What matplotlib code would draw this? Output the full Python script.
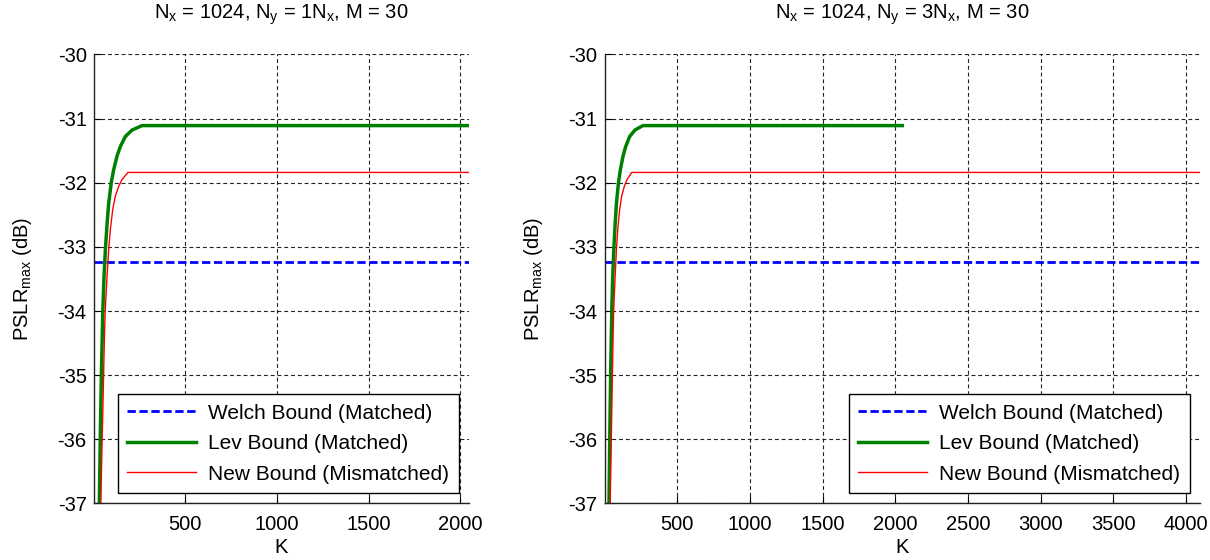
import matplotlib
matplotlib.use("Agg")
import matplotlib.pyplot as plt

plt.rcParams['font.family'] = ['Liberation Sans', 'DejaVu Sans']
plt.rcParams['mathtext.fontset'] = 'custom'
plt.rcParams['mathtext.rm'] = 'Liberation Sans'
plt.rcParams['mathtext.it'] = 'Liberation Sans'
plt.rcParams['axes.unicode_minus'] = False

# ---- data ----
K_welch_1 = [1, 2048]
K_welch_3 = [1, 4096]
welch = -33.23

K_lev = [30, 36, 42, 50, 56, 64, 73, 82, 96, 109, 127, 145, 173, 209, 264, 2048]
lev = [-37.2, -36.0, -35.0, -34.0, -33.5, -33.04, -32.65, -32.32, -32.0, -31.80,
       -31.59, -31.44, -31.28, -31.18, -31.11, -31.11]

K_new = [38, 45, 52, 58, 63, 73, 82, 91, 104, 118, 136, 155, 187, 4096]
new = [-37.1, -36.2, -35.3, -34.5, -34.0, -33.46, -33.04, -32.73, -32.42, -32.21,
       -32.06, -31.95, -31.84, -31.84]

titles = [r'N$_\mathrm{x}$ = 1024, N$_\mathrm{y}$ = 1N$_\mathrm{x}$, M = 30',
          r'N$_\mathrm{x}$ = 1024, N$_\mathrm{y}$ = 3N$_\mathrm{x}$, M = 30']
xmax = [2048, 4096]
xticks = [[500, 1000, 1500, 2000],
          [500, 1000, 1500, 2000, 2500, 3000, 3500, 4000]]
yticks = [-37, -36, -35, -34, -33, -32, -31, -30]
labels = ['Welch Bound (Matched)', 'Lev Bound (Matched)', 'New Bound (Mismatched)']

fig = plt.figure(figsize=(12.1, 5.6), dpi=100)
ax1 = fig.add_axes([0.0774, 0.1009, 0.3104, 0.802])
ax2 = fig.add_axes([0.4996, 0.1009, 0.4921, 0.802])

fs = 14.5
for i, ax in enumerate([ax1, ax2]):
    kw = K_welch_1 if i == 0 else K_welch_3
    ax.plot(kw, [welch, welch], color='#0000ff', lw=2.0, ls=(0, (3.0, 1.3)),
            label=labels[0])
    ax.plot(K_lev, lev, color='#008000', lw=2.5, label=labels[1])
    ax.plot(K_new, new, color='#ff0000', lw=1.0, label=labels[2])
    ax.set_xlim(0, xmax[i])
    ax.set_ylim(-37, -30)
    ax.set_xticks(xticks[i])
    ax.set_yticks(yticks)
    ax.tick_params(direction='in', length=5, labelsize=fs, width=0.8)
    ax.tick_params(axis='x', pad=8)
    ax.tick_params(axis='y', pad=5)
    ax.grid(True, color='#222222', ls=(0, (3.5, 2.6)), lw=0.8)
    for s in ['top', 'right']:
        ax.spines[s].set_visible(False)
    for s in ['left', 'bottom']:
        ax.spines[s].set_linewidth(1.0)
        ax.spines[s].set_color('#222222')
    ax.set_xlabel('K', fontsize=fs, labelpad=3)
    ax.set_ylabel(r'PSLR$_\mathrm{max}$ (dB)', fontsize=fs, labelpad=17)
    ax.set_title(titles[i], fontsize=fs, pad=26)
    leg = ax.legend(loc='lower right', fontsize=15, fancybox=False, framealpha=1,
                    edgecolor='black', borderaxespad=0.5, handlelength=3.3,
                    labelspacing=0.55, handletextpad=0.6, borderpad=0.45)
    leg.get_frame().set_linewidth(1.0)

fig.savefig('out.png', dpi=100)
